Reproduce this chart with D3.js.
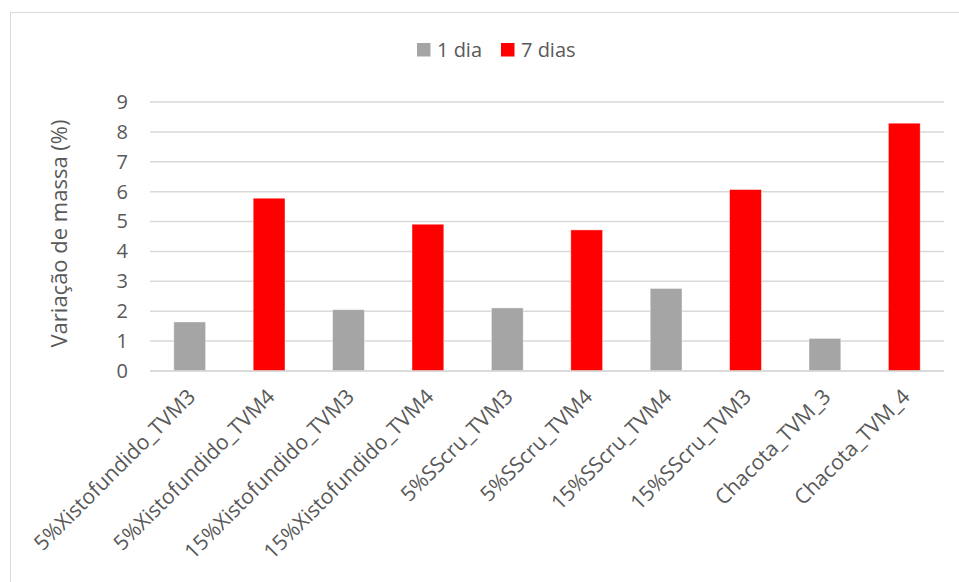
<!DOCTYPE html>
<html>
<head>
<meta charset="utf-8">
<script src="https://cdn.jsdelivr.net/npm/d3@7"></script>
<style>
  html, body { margin: 0; padding: 0; background: #fff; }
  svg { display: block; font-family: "Open Sans", "Noto Sans", sans-serif; }
</style>
</head>
<body>
<svg id="chart" width="959" height="582"></svg>
<script>
// Mass variation (%) per sample; each sample was measured after 1 day or after 7 days
const categories = [
  "5%Xistofundido_TVM3", "5%Xistofundido_TVM4",
  "15%Xistofundido_TVM3", "15%Xistofundido_TVM4",
  "5%SScru_TVM3", "5%SScru_TVM4",
  "15%SScru_TVM4", "15%SScru_TVM3",
  "Chacota_TVM_3", "Chacota_TVM_4"
];
const dia1  = [1.64, null, 2.05, null, 2.11, null, 2.76, null, 1.09, null];
const dias7 = [null, 5.78, null, 4.91, null, 4.72, null, 6.07, null, 8.29];
const seriesNames = ["1 dia", "7 dias"];
const seriesColors = ["#a5a5a5", "#ff0000"];
const yTicks = [0, 1, 2, 3, 4, 5, 6, 7, 8, 9];
const yTitle = "Variação de massa (%)";

const svg = d3.select("#chart");
const textColor = "#595959";
const margin = { left: 150, right: 15, top: 102, bottom: 211 };
const W = 959, H = 582;

// chart area frame (top and left edges visible)
svg.append("path")
  .attr("d", `M10.5,${H} V12.5 H${W}`)
  .attr("fill", "none")
  .attr("stroke", "#d9d9d9")
  .attr("stroke-width", 1);

const x = d3.scaleBand()
  .domain(categories)
  .range([margin.left, W - margin.right])
  .paddingInner(0.6)
  .paddingOuter(0.3);

const y = d3.scaleLinear()
  .domain([0, 9])
  .range([H - margin.bottom, margin.top]);

// gridlines
svg.append("g")
  .selectAll("line")
  .data(yTicks)
  .join("line")
  .attr("x1", margin.left)
  .attr("x2", W - margin.right)
  .attr("y1", d => y(d))
  .attr("y2", d => y(d))
  .attr("stroke", "#d9d9d9")
  .attr("stroke-width", 1.5);

// y axis labels
const yAxis = d3.axisLeft(y).tickValues(yTicks).tickSize(0).tickPadding(0);
const gy = svg.append("g")
  .attr("transform", `translate(${margin.left - 22},0)`)
  .call(yAxis);
gy.select(".domain").remove();
gy.selectAll("text")
  .attr("fill", textColor)
  .attr("font-size", 20)
  .attr("font-family", "Open Sans, sans-serif");

// bars
const series = [dia1, dias7];
series.forEach((vals, si) => {
  svg.append("g")
    .selectAll("rect")
    .data(categories.map((c, i) => ({ c, v: vals[i] })).filter(d => d.v != null))
    .join("rect")
    .attr("x", d => x(d.c))
    .attr("width", x.bandwidth())
    .attr("y", d => y(d.v))
    .attr("height", d => y(0) - y(d.v))
    .attr("fill", seriesColors[si])
    .attr("stroke", "#fff")
    .attr("stroke-opacity", 0.5)
    .attr("stroke-width", 0.75);
});

// baseline
svg.append("line")
  .attr("x1", margin.left)
  .attr("x2", W - margin.right)
  .attr("y1", y(0))
  .attr("y2", y(0))
  .attr("stroke", "#d9d9d9")
  .attr("stroke-width", 1.5);

// category labels, rotated
const xAxis = d3.axisBottom(x).tickSize(0).tickPadding(0);
const gx = svg.append("g")
  .attr("transform", `translate(0,${y(0)})`)
  .call(xAxis);
gx.select(".domain").remove();
gx.selectAll("text")
  .attr("fill", textColor)
  .attr("font-size", 21)
  .attr("font-family", "Open Sans, sans-serif")
  .attr("text-anchor", "end")
  .attr("dy", null)
  .attr("y", 0)
  .attr("transform", "translate(7,27) rotate(-45)");

// y axis title
svg.append("text")
  .attr("transform", `translate(67,${(y(0) + y(9)) / 2 - 3}) rotate(-90)`)
  .attr("text-anchor", "middle")
  .attr("fill", textColor)
  .attr("font-size", 22)
  .text(yTitle);

// legend
const legend = svg.append("g");
const legendItems = [
  { name: seriesNames[0], color: seriesColors[0], x: 417 },
  { name: seriesNames[1], color: seriesColors[1], x: 501 }
];
legendItems.forEach(it => {
  legend.append("rect")
    .attr("x", it.x).attr("y", 43)
    .attr("width", 13.5).attr("height", 13.5)
    .attr("fill", it.color);
  legend.append("text")
    .attr("x", it.x + 20).attr("y", 57)
    .attr("fill", textColor)
    .attr("font-size", 20)
    .text(it.name);
});
</script>
</body>
</html>
